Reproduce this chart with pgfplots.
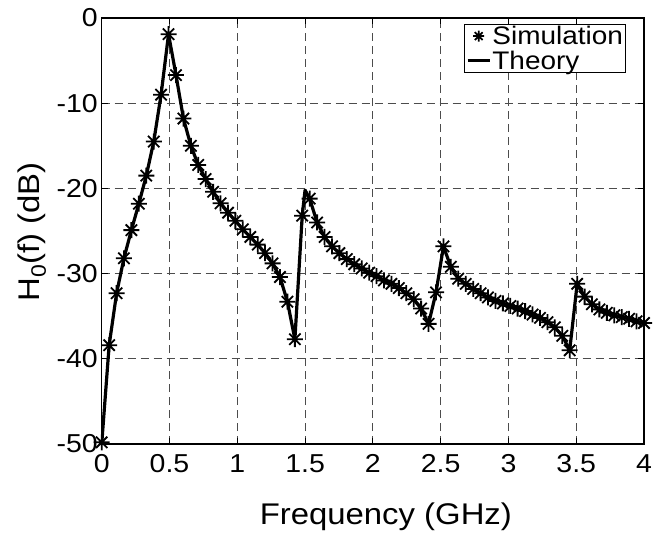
\documentclass[border=0pt]{standalone}
\usepackage{fontspec}
\setmainfont[FakeStretch=1.1]{Liberation Sans}
\usepackage{pgfplots}
\pgfplotsset{compat=1.18}
\usepackage{pgfplotstable}

\pgfdeclareplotmark{mstar}{%
  \pgfpathmoveto{\pgfqpoint{-\pgfplotmarksize}{0pt}}\pgfpathlineto{\pgfqpoint{\pgfplotmarksize}{0pt}}%
  \pgfpathmoveto{\pgfqpoint{0pt}{-\pgfplotmarksize}}\pgfpathlineto{\pgfqpoint{0pt}{\pgfplotmarksize}}%
  \pgfpathmoveto{\pgfqpoint{-0.707\pgfplotmarksize}{-0.707\pgfplotmarksize}}\pgfpathlineto{\pgfqpoint{0.707\pgfplotmarksize}{0.707\pgfplotmarksize}}%
  \pgfpathmoveto{\pgfqpoint{-0.707\pgfplotmarksize}{0.707\pgfplotmarksize}}\pgfpathlineto{\pgfqpoint{0.707\pgfplotmarksize}{-0.707\pgfplotmarksize}}%
  \pgfusepathqstroke}

\pgfplotstableread{
f dB
0.000 -49.8
0.055 -38.4
0.110 -32.3
0.164 -28.2
0.219 -24.9
0.274 -21.8
0.329 -18.5
0.384 -14.5
0.438 -9.0
0.493 -1.9
0.548 -6.7
0.603 -11.8
0.658 -15.0
0.712 -17.25
0.767 -18.9
0.822 -20.4
0.877 -21.75
0.932 -22.85
0.986 -23.8
1.041 -24.8
1.096 -25.7
1.151 -26.6
1.205 -27.6
1.260 -28.8
1.315 -30.4
1.370 -33.3
1.425 -37.7
1.479 -23.2
1.534 -21.2
1.589 -24.0
1.644 -25.7
1.699 -26.8
1.753 -27.6
1.808 -28.3
1.863 -28.9
1.918 -29.4
1.973 -29.9
2.027 -30.3
2.082 -30.8
2.137 -31.2
2.192 -31.7
2.247 -32.3
2.301 -33.0
2.356 -34.1
2.411 -35.9
2.466 -32.2
2.521 -26.8
2.575 -29.2
2.630 -30.6
2.685 -31.2
2.740 -31.8
2.795 -32.3
2.849 -32.8
2.904 -33.2
2.959 -33.5
3.014 -33.8
3.068 -34.1
3.123 -34.4
3.178 -34.8
3.233 -35.2
3.288 -35.7
3.342 -36.3
3.397 -37.3
3.452 -39.0
3.507 -31.2
3.562 -32.7
3.616 -33.6
3.671 -34.2
3.726 -34.6
3.781 -34.9
3.836 -35.1
3.890 -35.3
3.945 -35.6
4.000 -35.8
}\simdata

\pgfplotstableread{
f dB
0.000 -50.0
0.055 -38.4
0.110 -32.3
0.164 -28.2
0.219 -24.9
0.274 -21.8
0.329 -18.5
0.384 -14.5
0.438 -9.0
0.493 -1.9
0.548 -6.7
0.603 -11.8
0.658 -15.0
0.712 -17.25
0.767 -18.9
0.822 -20.4
0.877 -21.75
0.932 -22.85
0.986 -23.8
1.041 -24.8
1.096 -25.7
1.151 -26.6
1.205 -27.6
1.260 -28.8
1.315 -30.4
1.370 -33.3
1.425 -37.7
1.479 -23.2
1.500 -20.2
1.534 -21.2
1.589 -24.0
1.644 -25.7
1.699 -26.8
1.753 -27.6
1.808 -28.3
1.863 -28.9
1.918 -29.4
1.973 -29.9
2.027 -30.3
2.082 -30.8
2.137 -31.2
2.192 -31.7
2.247 -32.3
2.301 -33.0
2.356 -34.1
2.411 -35.9
2.466 -32.2
2.521 -26.8
2.575 -29.2
2.630 -30.6
2.685 -31.2
2.740 -31.8
2.795 -32.3
2.849 -32.8
2.904 -33.2
2.959 -33.5
3.014 -33.8
3.068 -34.1
3.123 -34.4
3.178 -34.8
3.233 -35.2
3.288 -35.7
3.342 -36.3
3.397 -37.3
3.452 -39.0
3.507 -31.2
3.562 -32.7
3.616 -33.6
3.671 -34.2
3.726 -34.6
3.781 -34.9
3.836 -35.1
3.890 -35.3
3.945 -35.6
4.000 -35.8
}\theorydata

\begin{document}
\begin{tikzpicture}
\useasboundingbox (-101.7bp,-94bp) rectangle (551.3bp,444bp);
\begin{axis}[
  at={(0,0)}, anchor=south west,
  scale only axis, width=542.3bp, height=426bp,
  xmin=0, xmax=4, ymin=-50, ymax=0,
  xtick={0,0.5,1,1.5,2,2.5,3,3.5,4},
  xticklabels={0,0.5,1,1.5,2,2.5,3,3.5,4},
  ytick={-50,-40,-30,-20,-10,0},
  yticklabels={-50,-40,-30,-20,-10,0},
  tick align=inside, major tick length=6bp,
  tick style={black, line width=0.8bp},
  axis line style={black, line width=1.2bp},
  grid=major,
  major grid style={dash pattern=on 8bp off 5bp, line width=1bp, black!70},
  ticklabel style={font=\fontsize{26}{26}\selectfont, inner sep=0pt},
  xticklabel style={yshift=-10bp},
  yticklabel style={xshift=-3.7bp},
  xlabel={Frequency (GHz)},
  ylabel={H\textsubscript{0}(f) (dB)},
  label style={font=\fontsize{30}{30}\selectfont},
  xlabel style={at={(axis description cs:0.524,-0.171)}, anchor=center},
  ylabel style={at={(axis description cs:-0.1285,0.498)}, anchor=center},
  legend style={at={(0.9668,0.9859)}, anchor=north east, draw=black, line width=0.8bp,
    font=\fontsize{25.5}{25.5}\selectfont, inner xsep=1.5bp, inner ysep=0.5bp,
    nodes={inner sep=1.2bp}, row sep=2.5bp},
  legend cell align=left,
]
\addplot[only marks, black, mark=mstar, mark size=8bp, mark options={line width=1.8bp}, line join=round,
  legend image code/.code={\draw[black, mark=mstar, mark size=5.5bp, line width=1.4bp] plot coordinates {(11bp,0bp)};}]
  table[x=f, y=dB] {\simdata};
\addlegendentry{Simulation}
\addplot[black, line width=3.2bp, mark=none, line join=round,
  legend image code/.code={\draw[black, line width=3bp] (0bp,0bp) -- (22bp,0bp);}]
  table[x=f, y=dB] {\theorydata};
\addlegendentry{Theory}
\end{axis}
\end{tikzpicture}
\end{document}
